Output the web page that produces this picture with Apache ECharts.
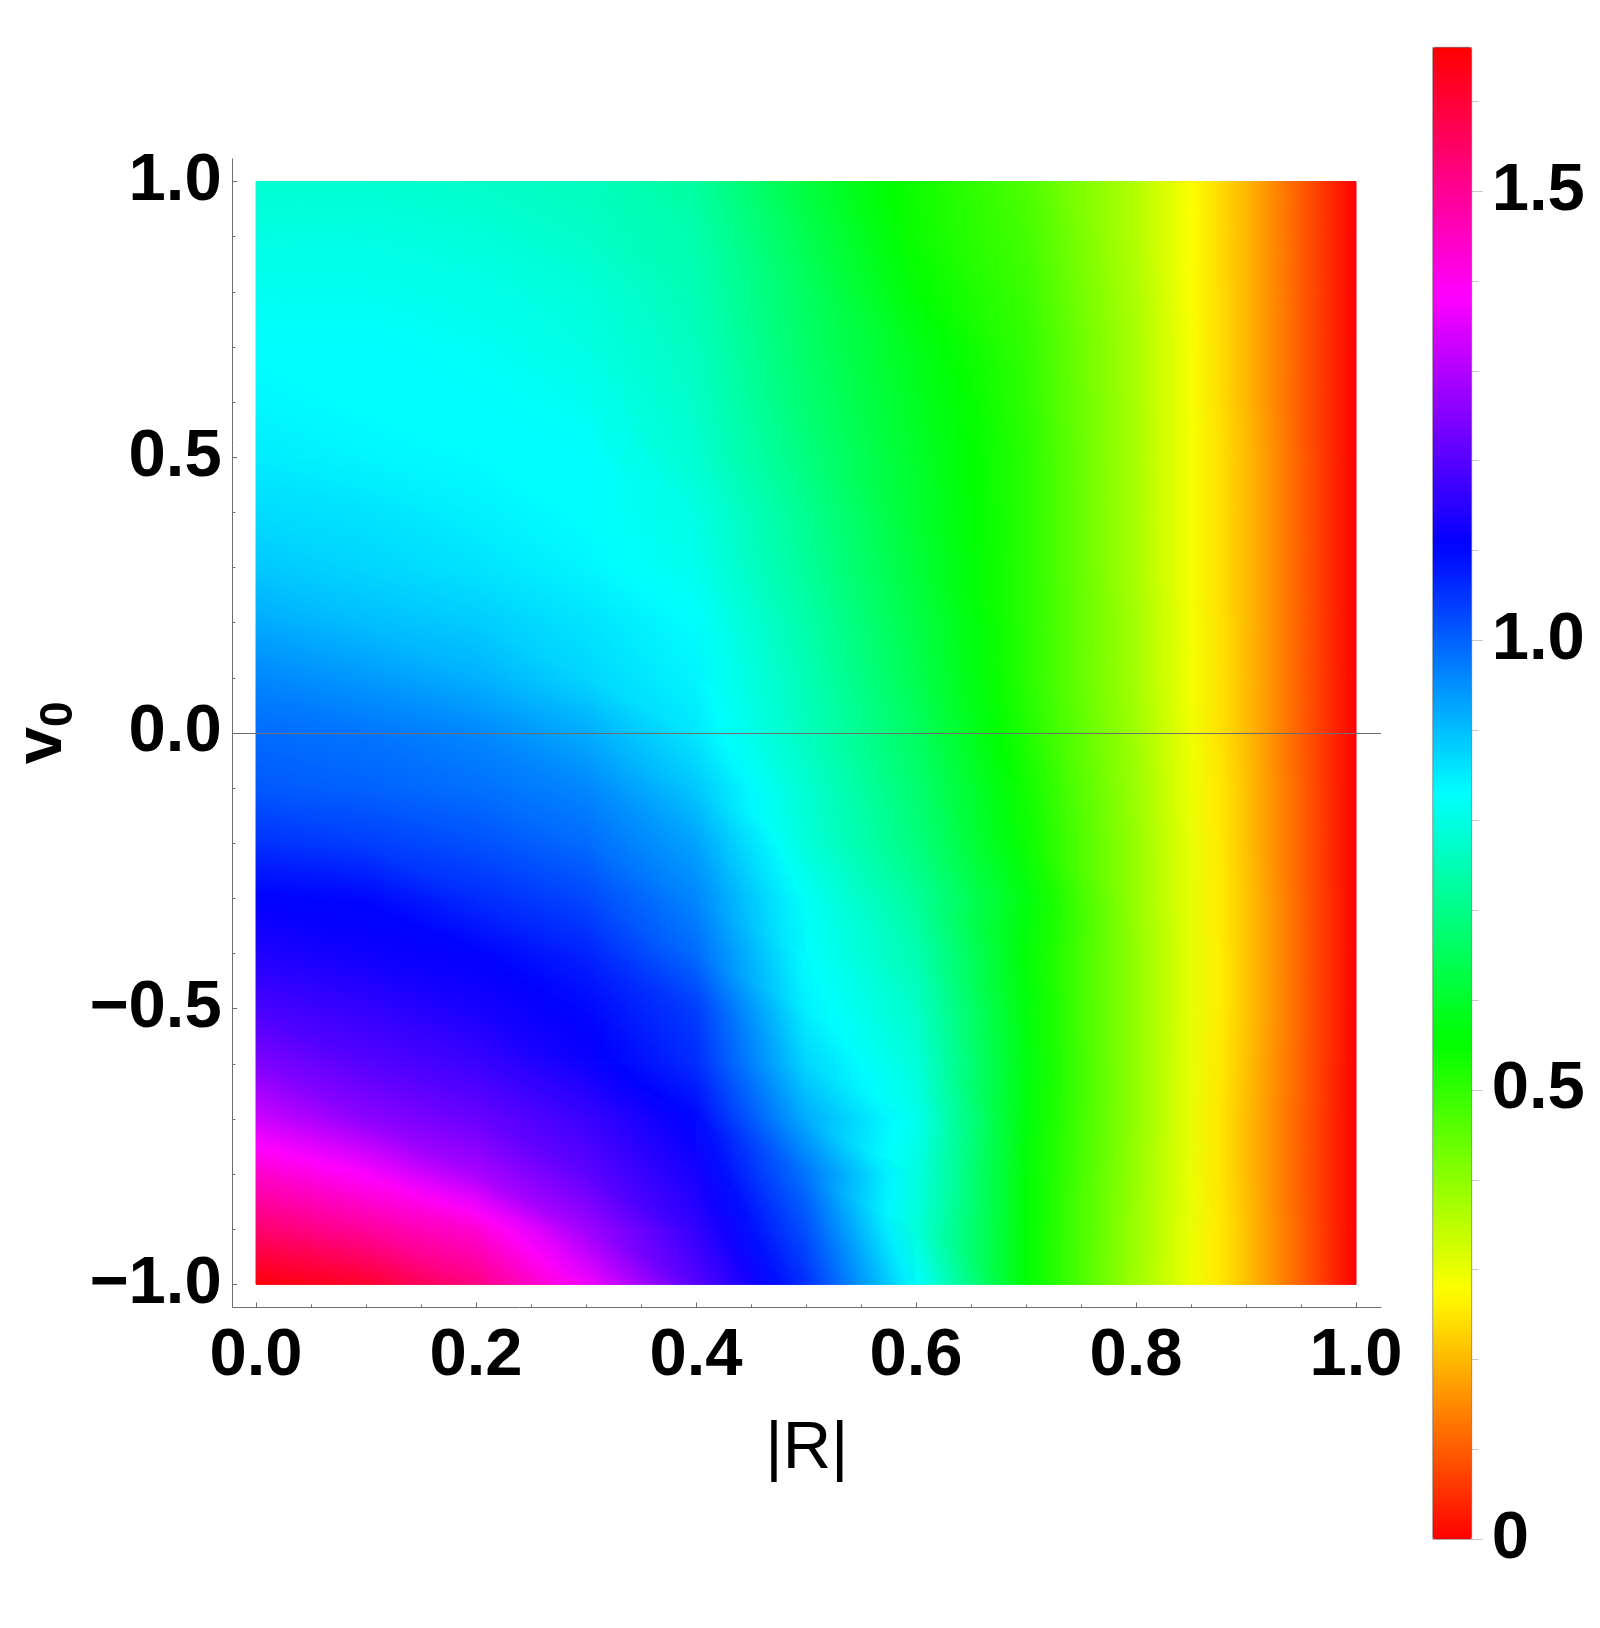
<!DOCTYPE html>
<html>
<head>
<meta charset="utf-8">
<script src="https://cdn.jsdelivr.net/npm/echarts@6/dist/echarts.min.js"></script>
<style>
  html, body { margin: 0; padding: 0; background: #fff; }
  #chart { width: 1600px; height: 1628px; }
</style>
</head>
<body>
<div id="chart"></div>
<script>
// grid nodes of the density plot
const rValues = [0, 0.1, 0.2, 0.3, 0.4, 0.5, 0.6, 0.7, 0.8, 0.9, 1.0];
const v0Values = [1.0, 0.9, 0.8, 0.7, 0.6, 0.5, 0.4, 0.3, 0.2, 0.1, 0.0,
  -0.1, -0.2, -0.3, -0.4, -0.5, -0.6, -0.7, -0.8, -0.9, -1.0];

// one row per v0 value (top to bottom), one entry per |R| value
const fieldRows = [
  [0.78, 0.78, 0.77, 0.76, 0.725, 0.62, 0.535, 0.47, 0.36, 0.20, 0.0],
  [0.80, 0.80, 0.79, 0.77, 0.74, 0.64, 0.54, 0.48, 0.36, 0.20, 0.0],
  [0.815, 0.815, 0.805, 0.79, 0.75, 0.657, 0.556, 0.49, 0.365, 0.20, 0.0],
  [0.83, 0.83, 0.82, 0.80, 0.76, 0.665, 0.58, 0.50, 0.37, 0.20, 0.0],
  [0.838, 0.83, 0.83, 0.815, 0.77, 0.675, 0.59, 0.505, 0.37, 0.20, 0.0],
  [0.85, 0.84, 0.833, 0.83, 0.78, 0.69, 0.60, 0.51, 0.37, 0.205, 0.0],
  [0.868, 0.86, 0.845, 0.83, 0.80, 0.71, 0.605, 0.51, 0.37, 0.205, 0.0],
  [0.89, 0.875, 0.86, 0.84, 0.81, 0.72, 0.615, 0.51, 0.37, 0.205, 0.0],
  [0.922, 0.90, 0.885, 0.86, 0.83, 0.737, 0.63, 0.51, 0.375, 0.205, 0.0],
  [0.96, 0.94, 0.915, 0.875, 0.84, 0.75, 0.64, 0.51, 0.375, 0.205, 0.0],
  [0.99, 0.98, 0.96, 0.92, 0.855, 0.76, 0.657, 0.52, 0.38, 0.205, 0.0],
  [1.01, 1.0, 0.985, 0.96, 0.89, 0.78, 0.675, 0.535, 0.385, 0.21, 0.0],
  [1.055, 1.04, 1.02, 0.99, 0.93, 0.79, 0.69, 0.545, 0.39, 0.21, 0.0],
  [1.107, 1.10, 1.06, 1.03, 0.96, 0.82, 0.72, 0.57, 0.39, 0.215, 0.0],
  [1.14, 1.12, 1.107, 1.07, 0.99, 0.83, 0.745, 0.56, 0.395, 0.215, 0.0],
  [1.185, 1.16, 1.13, 1.10, 1.04, 0.845, 0.77, 0.565, 0.395, 0.215, 0.0],
  [1.245, 1.20, 1.17, 1.12, 1.06, 0.875, 0.79, 0.57, 0.395, 0.21, 0.0],
  [1.33, 1.26, 1.22, 1.17, 1.10, 0.92, 0.81, 0.565, 0.395, 0.205, 0.0],
  [1.44, 1.38, 1.29, 1.21, 1.13, 0.98, 0.80, 0.56, 0.39, 0.205, 0.0],
  [1.54, 1.49, 1.43, 1.28, 1.16, 1.02, 0.79, 0.56, 0.385, 0.21, 0.0],
  [1.65, 1.61, 1.52, 1.37, 1.20, 1.055, 0.83, 0.56, 0.38, 0.21, 0.0]
];

const xMajorTicks = [0, 0.2, 0.4, 0.6, 0.8, 1.0];
const xMinorTicks = [0.05, 0.1, 0.15, 0.25, 0.3, 0.35, 0.45, 0.5, 0.55, 0.65, 0.7, 0.75, 0.85, 0.9, 0.95];
const yMajorTicks = [-1.0, -0.5, 0, 0.5, 1.0];
const yMinorTicks = [-0.9, -0.8, -0.7, -0.6, -0.4, -0.3, -0.2, -0.1, 0.1, 0.2, 0.3, 0.4, 0.6, 0.7, 0.8, 0.9];
const barMajorTicks = [0, 0.5, 1.0, 1.5];
const barMinorTicks = [0.1, 0.2, 0.3, 0.4, 0.6, 0.7, 0.8, 0.9, 1.1, 1.2, 1.3, 1.4, 1.6];

const VALUE_MAX = 1.66;
const hueStops = ['#ff0000', '#ffff00', '#00ff00', '#00ffff', '#0000ff', '#ff00ff', '#ff0000'];
const FONT = '"Liberation Sans", Arial, sans-serif';
const AXIS_COLOR = '#6e6e6e';

// same mapping as the visualMap: full hue wheel over [0, VALUE_MAX]
function hueColor(v) {
  const h = Math.max(0, Math.min(1, v / VALUE_MAX)) * 6;
  const k = Math.floor(h) % 6;
  const f = h - Math.floor(h);
  let rgb;
  if (k === 0) rgb = [1, f, 0];
  else if (k === 1) rgb = [1 - f, 1, 0];
  else if (k === 2) rgb = [0, 1, f];
  else if (k === 3) rgb = [0, 1 - f, 1];
  else if (k === 4) rgb = [f, 0, 1];
  else rgb = [1, 0, 1 - f];
  return 'rgb(' + rgb.map((c) => Math.round(c * 255)).join(',') + ')';
}

// linear shading over one triangle of the mesh
function triangle(pts, vals) {
  const a = pts[0], b = pts[1], c = pts[2];
  const e1x = b[0] - a[0], e1y = b[1] - a[1];
  const e2x = c[0] - a[0], e2y = c[1] - a[1];
  const d1 = vals[1] - vals[0], d2 = vals[2] - vals[0];
  const det = e1x * e2y - e1y * e2x;
  const gx = (d1 * e2y - d2 * e1y) / det;
  const gy = (d2 * e1x - d1 * e2x) / det;
  const g2 = gx * gx + gy * gy;
  const lo = Math.min(vals[0], vals[1], vals[2]);
  const hi = Math.max(vals[0], vals[1], vals[2]);
  let fill;
  if (hi - lo < 1e-6 || g2 < 1e-14) {
    fill = hueColor(lo);
  } else {
    const s = (lo - vals[0]) / g2;
    const t = (hi - vals[0]) / g2;
    const stops = [];
    for (let k = 0; k <= 4; k++) {
      stops.push({ offset: k / 4, color: hueColor(lo + (hi - lo) * k / 4) });
    }
    fill = {
      type: 'linear', global: true,
      x: a[0] + gx * s, y: a[1] + gy * s,
      x2: a[0] + gx * t, y2: a[1] + gy * t,
      colorStops: stops
    };
  }
  return { type: 'polygon', shape: { points: pts }, style: { fill: fill, stroke: fill, lineWidth: 1 } };
}

function renderCell(params, api) {
  const x0 = api.value(0), x1 = api.value(1);
  const yTop = api.value(2), yBot = api.value(3);
  const pTL = api.coord([x0, yTop]), pTR = api.coord([x1, yTop]);
  const pBL = api.coord([x0, yBot]), pBR = api.coord([x1, yBot]);
  const vTL = api.value(4), vTR = api.value(5), vBL = api.value(6), vBR = api.value(7);
  return {
    type: 'group',
    children: [
      triangle([pTL, pTR, pBR], [vTL, vTR, vBR]),
      triangle([pTL, pBR, pBL], [vTL, vBR, vBL])
    ]
  };
}

const cells = [];
for (let j = 0; j < v0Values.length - 1; j++) {
  for (let i = 0; i < rValues.length - 1; i++) {
    cells.push([
      rValues[i], rValues[i + 1], v0Values[j], v0Values[j + 1],
      fieldRows[j][i], fieldRows[j][i + 1], fieldRows[j + 1][i], fieldRows[j + 1][i + 1]
    ]);
  }
}

const tickLabel = (v) => (v < 0 ? '\u2212' : '') + Math.abs(v).toFixed(1);
const labelStyle = { color: '#000', fontFamily: FONT, fontSize: 67, fontWeight: 'bold' };

const chart = echarts.init(document.getElementById('chart'));
chart.setOption({
  animation: false,
  backgroundColor: '#fff',
  grid: [
    { left: 232.7, top: 158.9, right: 219, bottom: 321, outerBoundsMode: 'none' },
    {
      left: 1432.7, top: 47.3, width: 39, height: 1492, outerBoundsMode: 'none',
      show: true, borderColor: 'rgba(0,0,0,0.35)', borderWidth: 1, z: 5
    }
  ],
  xAxis: [
    {
      type: 'value', gridIndex: 0, position: 'bottom', min: -0.0212, max: 1.0227,
      axisLine: { show: true, onZero: false, lineStyle: { color: AXIS_COLOR, width: 1 } },
      axisTick: { show: true, inside: true, length: 4.5, customValues: xMajorTicks, lineStyle: { color: AXIS_COLOR } },
      axisLabel: Object.assign({ customValues: xMajorTicks, margin: 16, formatter: tickLabel }, labelStyle),
      splitLine: { show: false },
      name: '|R|', nameLocation: 'middle', nameGap: 109,
      nameTextStyle: { color: '#000', fontFamily: FONT, fontSize: 67, fontWeight: 'normal' }
    },
    {
      type: 'value', gridIndex: 0, position: 'bottom', min: -0.0212, max: 1.0227,
      axisLine: { show: false, onZero: false },
      axisTick: { show: true, inside: true, length: 2.7, customValues: xMinorTicks, lineStyle: { color: AXIS_COLOR } },
      axisLabel: { show: false },
      splitLine: { show: false }
    },
    { type: 'value', gridIndex: 1, min: 0, max: 1, show: false }
  ],
  yAxis: [
    {
      type: 'value', gridIndex: 0, position: 'left', min: -1.041, max: 1.041,
      axisLine: { show: true, onZero: false, lineStyle: { color: AXIS_COLOR, width: 1 } },
      axisTick: { show: true, inside: true, length: 4.5, customValues: yMajorTicks, lineStyle: { color: AXIS_COLOR } },
      axisLabel: Object.assign({ customValues: yMajorTicks, margin: 11, padding: [13, 0, 0, 0], formatter: tickLabel }, labelStyle),
      splitLine: { show: false },
      name: '{v|v}{s|0}', nameLocation: 'middle', nameRotate: 90, nameGap: 150,
      nameMoveOverlap: false,
      nameTextStyle: {
        color: '#000', fontFamily: FONT,
        rich: {
          v: { fontFamily: FONT, fontSize: 67, fontWeight: 'bold', color: '#000', verticalAlign: 'bottom', padding: [0, 0, 7, 0] },
          s: { fontFamily: FONT, fontSize: 46, fontWeight: 'bold', color: '#000', verticalAlign: 'bottom' }
        }
      }
    },
    {
      type: 'value', gridIndex: 0, position: 'left', min: -1.041, max: 1.041,
      axisLine: { show: false, onZero: false },
      axisTick: { show: true, inside: true, length: 2.7, customValues: yMinorTicks, lineStyle: { color: AXIS_COLOR } },
      axisLabel: { show: false },
      splitLine: { show: false }
    },
    {
      type: 'value', gridIndex: 1, position: 'right', min: 0, max: VALUE_MAX,
      axisLine: { show: false, onZero: false },
      axisTick: { show: true, inside: false, length: 11, customValues: barMajorTicks, lineStyle: { color: '#c8c8c8' } },
      axisLabel: Object.assign({
        customValues: barMajorTicks, margin: 20, padding: [10, 0, 0, 0],
        formatter: (v) => (v === 0 ? '0' : v.toFixed(1))
      }, labelStyle),
      splitLine: { show: false }
    },
    {
      type: 'value', gridIndex: 1, position: 'right', min: 0, max: VALUE_MAX,
      axisLine: { show: false, onZero: false },
      axisTick: { show: true, inside: false, length: 7, customValues: barMinorTicks, lineStyle: { color: '#c8c8c8' } },
      axisLabel: { show: false },
      splitLine: { show: false }
    }
  ],
  visualMap: {
    type: 'continuous', min: 0, max: VALUE_MAX, calculable: false,
    seriesIndex: 0, dimension: 4, orient: 'vertical',
    left: 1432.7, top: 47.3, itemWidth: 39, itemHeight: 1492, padding: 0,
    inRange: { color: hueStops }
  },
  series: [
    {
      type: 'custom', xAxisIndex: 0, yAxisIndex: 0,
      renderItem: renderCell,
      data: cells,
      encode: { x: [0, 1], y: [2, 3] },
      clip: false, silent: true,
      markLine: {
        silent: true, symbol: 'none', animation: false,
        label: { show: false },
        lineStyle: { color: AXIS_COLOR, width: 1, type: 'solid' },
        data: [{ yAxis: 0 }]
      }
    }
  ]
});
</script>
</body>
</html>
